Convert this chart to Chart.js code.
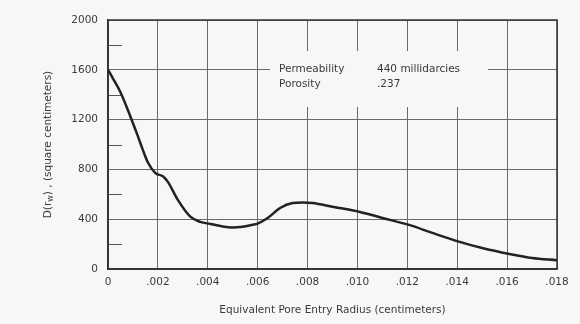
<!DOCTYPE html>
<html>
<head>
<meta charset="utf-8">
<script src="https://cdn.jsdelivr.net/npm/chart.js@4/dist/chart.umd.min.js"></script>
<style>
  html, body { margin: 0; padding: 0; background: #f7f7f5; }
  #wrap { width: 580px; height: 324px; }
</style>
</head>
<body>
<div id="wrap"><canvas id="poreChart" width="580" height="324"></canvas></div>
<script>
// equivalent pore entry radius (cm) and D(rw) (sq cm)
const radius = [0, 0.0002, 0.0005, 0.0008, 0.0012, 0.0014, 0.0016, 0.0019, 0.0022, 0.0024, 0.0028,
    0.0033, 0.0037, 0.0041, 0.0046, 0.005, 0.0054, 0.0058, 0.006, 0.0064, 0.0069,
    0.0074, 0.0078, 0.0082, 0.009, 0.0101, 0.011, 0.0121, 0.013, 0.0141, 0.015,
    0.0161, 0.017, 0.018];
const dValues = [1600, 1530, 1420, 1275, 1065, 955, 855, 770, 745, 700, 555,
    420, 378, 362, 342, 334, 340, 355, 365, 410, 490,
    530, 535, 530, 500, 458, 410, 352, 290, 218, 168,
    120, 88, 70];
const xTickLabels = ['0', '.002', '.004', '.006', '.008', '.010', '.012', '.014', '.016', '.018'];
const yTickLabels = ['0', '400', '800', '1200', '1600', '2000'];
const minorTicks = [200, 600, 1000, 1400, 1800];
const noteLines = [['Permeability', '440 millidarcies'], ['Porosity', '.237']];

const FONT = 'DejaVu Sans';
const INK = '#3a3a3a';

// short ticks, label box, frame and rotated y title with subscript
const extras = {
    id: 'extras',
    beforeDatasetsDraw(chart) {
        const c = chart.ctx, y = chart.scales.y, area = chart.chartArea;
        c.save();
        c.strokeStyle = '#555';
        c.lineWidth = 1;
        minorTicks.forEach(v => {
            const py = Math.round(y.getPixelForValue(v)) + 0.5;
            c.beginPath();
            c.moveTo(area.left, py);
            c.lineTo(area.left + 14, py);
            c.stroke();
        });
        // blank box behind the note
        c.fillStyle = '#f7f7f5';
        c.fillRect(270, 51, 218, 56);
        c.fillStyle = INK;
        c.font = '10.5px ' + FONT;
        c.textBaseline = 'middle';
        noteLines.forEach((ln, i) => {
            c.fillText(ln[0], 279, 69 + i * 15);
            c.fillText(ln[1], 377, 69 + i * 15);
        });
        c.strokeStyle = '#333';
        c.lineWidth = 1.5;
        c.strokeRect(area.left, area.top, area.right - area.left, area.bottom - area.top);
        c.restore();
    },
    afterDraw(chart) {
        const c = chart.ctx, area = chart.chartArea;
        c.save();
        c.translate(48, (area.top + area.bottom) / 2);
        c.rotate(-Math.PI / 2);
        c.fillStyle = INK;
        c.textBaseline = 'middle';
        const big = '10.5px ' + FONT, small = '8px ' + FONT;
        const parts = [['D(r', big, 0], ['w', small, 3], [') , (square centimeters)', big, 0]];
        let total = 0;
        parts.forEach(p => { c.font = p[1]; total += c.measureText(p[0]).width; });
        let x = -total / 2;
        parts.forEach(p => {
            c.font = p[1];
            c.fillText(p[0], x, p[2]);
            x += c.measureText(p[0]).width;
        });
        c.restore();
    }
};

const ctx = document.getElementById('poreChart').getContext('2d');
const poreChart = new Chart(ctx, {
    type: 'line',
    data: {
        datasets: [{
            data: radius.map((r, i) => ({ x: r, y: dValues[i] })),
            borderColor: '#222',
            borderWidth: 2.5,
            pointRadius: 0,
            fill: false,
            cubicInterpolationMode: 'monotone'
        }]
    },
    options: {
        responsive: false,
        animation: false,
        layout: { padding: { left: 0, right: 23, top: 20, bottom: 0 } },
        scales: {
            x: {
                type: 'linear',
                min: 0,
                max: 0.018,
                afterBuildTicks: s => { s.ticks = xTickLabels.map((t, i) => ({ value: i * 0.002 })); },
                afterFit: s => { s.height = 55; },
                ticks: {
                    callback: (v, i) => xTickLabels[i],
                    padding: 7,
                    maxRotation: 0,
                    color: INK,
                    font: { family: FONT, size: 10.5 }
                },
                grid: { color: '#6a6a6a', lineWidth: 1, drawTicks: false },
                border: { color: '#333', width: 1.5 },
                title: {
                    display: true,
                    text: 'Equivalent Pore Entry Radius (centimeters)',
                    color: INK,
                    font: { family: FONT, size: 10.5 },
                    padding: { top: 0, bottom: 7 }
                }
            },
            y: {
                min: 0,
                max: 2000,
                afterBuildTicks: s => { s.ticks = yTickLabels.map(t => ({ value: +t })); },
                afterFit: s => { s.width = 108; },
                ticks: {
                    callback: (v, i) => yTickLabels[i],
                    padding: 10,
                    color: INK,
                    font: { family: FONT, size: 10.5 }
                },
                grid: { color: '#6a6a6a', lineWidth: 1, drawTicks: false },
                border: { color: '#333', width: 1.5 }
            }
        },
        plugins: {
            legend: { display: false },
            tooltip: { enabled: false }
        }
    },
    plugins: [extras]
});
</script>
</body>
</html>
